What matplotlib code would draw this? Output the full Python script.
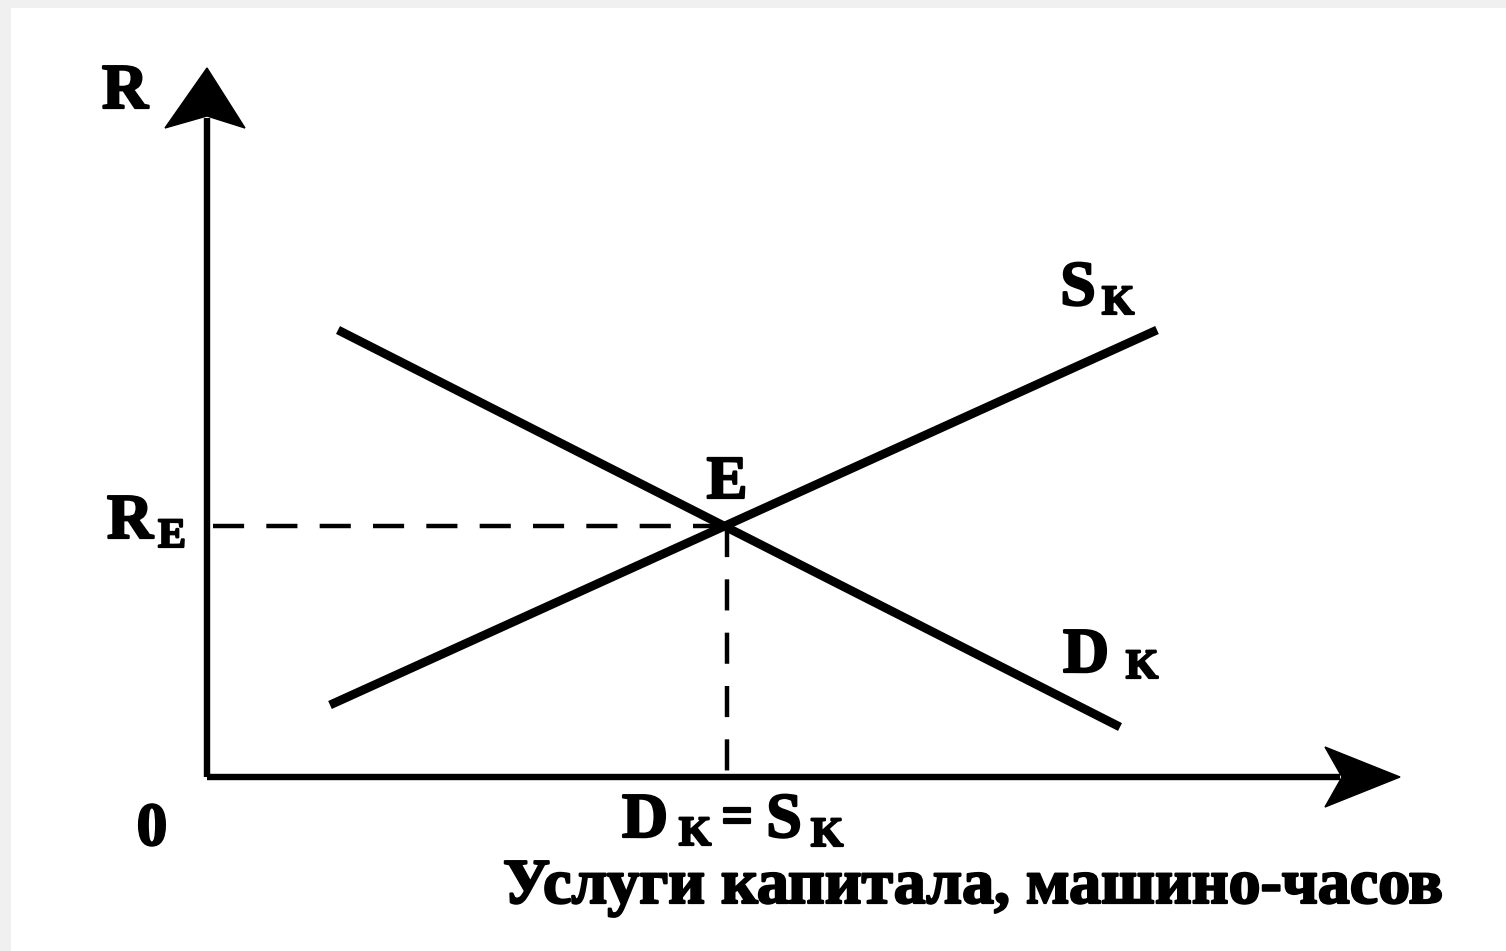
import numpy as np
import matplotlib.pyplot as plt
import matplotlib.patheffects as pe
from matplotlib.patches import Polygon, Rectangle

plt.rcParams['font.family'] = ['Liberation Serif', 'DejaVu Serif']

# линии спроса и предложения капитала (условные единицы)
demand_x = [1.31, 9.13]
demand_y = [4.47, 0.50]
supply_x = [1.23, 9.50]
supply_y = [0.72, 4.47]

# равновесие E
eq_x, eq_y = 5.20, 2.51

# концы осей
x_axis_end = 11.93
y_axis_end = 7.09

xlabel = "Услуги капитала, машино-часов"

fig = plt.figure(figsize=(15.06, 9.51), dpi=100)
fig.patch.set_facecolor('#f0f0f0')
ax = fig.add_axes([0, 0, 1, 1])
ax.set_xlim(-2.07, 12.99)
ax.set_ylim(-1.74, 7.77)
ax.axis('off')

bold = [pe.withStroke(linewidth=1.6, foreground='black')]

def label(x, y, s, size=46):
    ax.text(x, y, s, fontsize=size, fontweight='bold', ha='center', va='center',
            path_effects=bold)

def label_sub(x, y, main, sub, dx=0.42, dy=-0.14):
    label(x, y, main, 46)
    label(x + dx, y + dy, sub, 30)

# белая подложка
ax.add_patch(Rectangle((-1.96, -1.8), 16, 9.49, facecolor='white', edgecolor='none', zorder=0))

# оси
ax.plot([0, x_axis_end - 0.6], [0, 0], color='black', lw=4.6, solid_capstyle='butt')
ax.plot([0, 0], [0, y_axis_end - 0.5], color='black', lw=4.6, solid_capstyle='butt')

# стрелки
ax.add_patch(Polygon([(x_axis_end, 0), (x_axis_end - 0.75, 0.3),
                      (x_axis_end - 0.58, 0), (x_axis_end - 0.75, -0.3)],
                     closed=True, facecolor='black', edgecolor='black', lw=1))
ax.add_patch(Polygon([(0, y_axis_end), (-0.42, y_axis_end - 0.6),
                      (0, y_axis_end - 0.48), (0.38, y_axis_end - 0.6)],
                     closed=True, facecolor='black', edgecolor='black', lw=1))

# кривые
ax.plot(demand_x, demand_y, color='black', lw=6.3, solid_capstyle='butt')
ax.plot(supply_x, supply_y, color='black', lw=6.3, solid_capstyle='butt')

# пунктир
ax.plot([0.06, eq_x], [eq_y, eq_y], color='black', lw=3.2, dashes=(7, 5))
ax.plot([eq_x, eq_x], [eq_y, 0.05], color='black', lw=3.2, dashes=(7, 5))

# подписи
label(-0.82, 6.84, 'R')
label_sub(-0.77, 2.54, 'R', 'E')
label(eq_x, 2.94, 'E', 44)
label_sub(8.71, 4.87, 'S', 'K', dx=0.40)
label_sub(8.79, 1.20, 'D', 'K', dx=0.56, dy=-0.11)
label(-0.55, -0.53, '0', 44)
label_sub(4.38, -0.45, 'D', 'K', dx=0.50, dy=-0.13)
label(5.30, -0.43, '=', 40)
label_sub(5.77, -0.45, 'S', 'K', dx=0.43)
ax.text(7.65, -1.11, xlabel, fontsize=46, fontweight='bold', ha='center', va='center',
        path_effects=bold)

fig.savefig('out.png', dpi=100, facecolor=fig.get_facecolor())
